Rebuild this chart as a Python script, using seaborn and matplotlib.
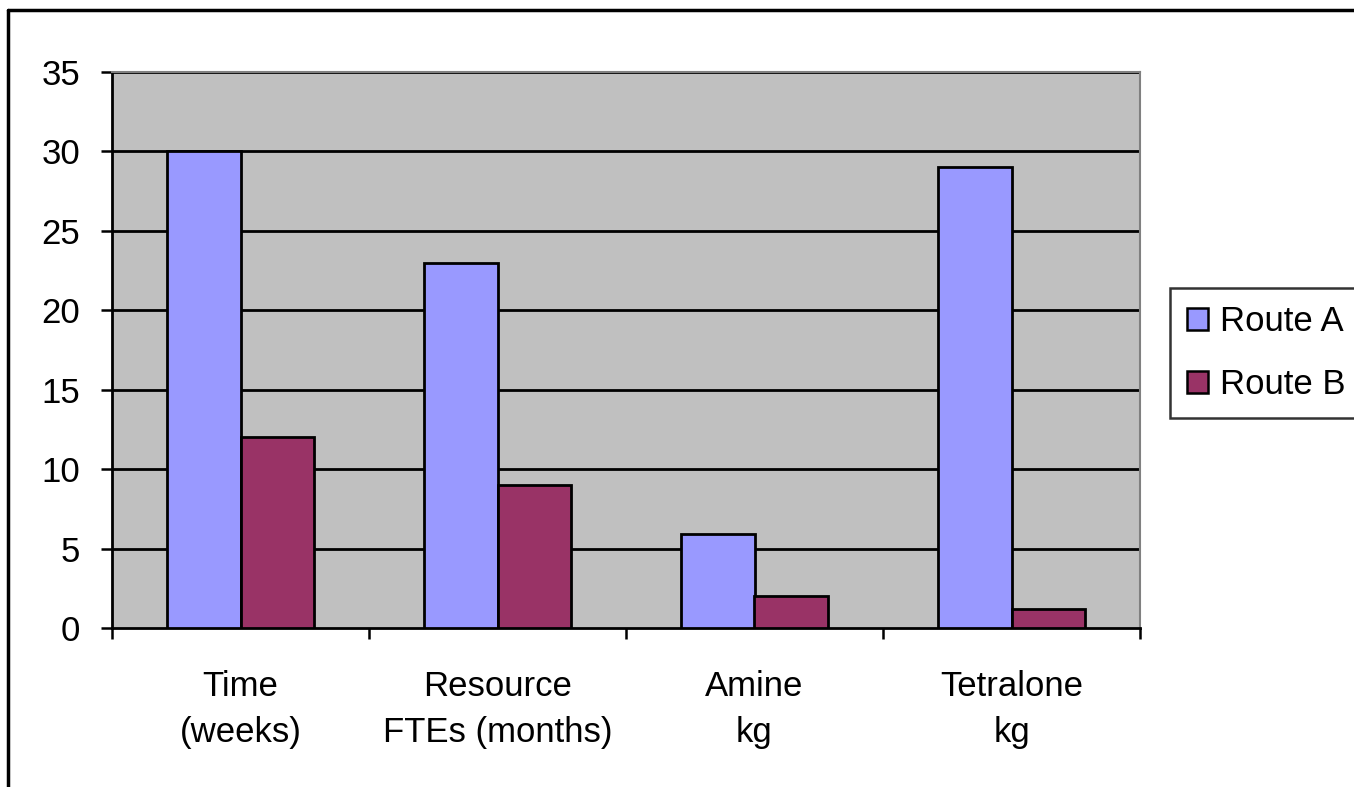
import matplotlib
matplotlib.use("Agg")
import matplotlib.pyplot as plt
from matplotlib.patches import Rectangle
from matplotlib.lines import Line2D
import seaborn as sns
import pandas as pd

categories = ["Time\n(weeks)", "Resource\nFTEs (months)", "Amine\nkg", "Tetralone\nkg"]
route_a = [30, 23, 5.9, 29]
route_b = [12, 9, 2, 1.2]
series = ["Route A", "Route B"]
colors = {"Route A": "#9999FF", "Route B": "#993366"}
y_ticks = [0, 5, 10, 15, 20, 25, 30, 35]

df = pd.DataFrame({
    "category": categories * 2,
    "value": route_a + route_b,
    "route": [series[0]] * len(categories) + [series[1]] * len(categories),
})

sns.set_style("white")
plt.rcParams["font.family"] = ["Liberation Sans", "DejaVu Sans"]
plt.rcParams["text.color"] = "black"
plt.rcParams["xtick.color"] = "black"
plt.rcParams["ytick.color"] = "black"

FS = 25

fig = plt.figure(figsize=(13.54, 7.87), dpi=100)
ax = fig.add_axes([112 / 1354, 1 - 628 / 787, 1028 / 1354, 556 / 787])
ax.set_facecolor("#C0C0C0")

sns.barplot(data=df, x="category", y="value", hue="route", palette=colors,
            width=0.572, edgecolor="black", linewidth=2, saturation=1,
            ax=ax, zorder=3, legend=False)

ax.set_xlim(-0.5, len(categories) - 0.5)
ax.set_ylim(0, 35)
ax.set_yticks(y_ticks)
ax.set_yticklabels([str(t) for t in y_ticks])
ax.set_xlabel("")
ax.set_ylabel("")

# horizontal gridlines
for t in y_ticks[1:]:
    ax.axhline(t, color="black", linewidth=2, zorder=2)

# category boundaries get tick marks, centers get labels
ax.set_xticks([i - 0.5 for i in range(len(categories) + 1)])
ax.set_xticklabels([])
ax.set_xticks(range(len(categories)), minor=True)
ax.set_xticklabels(categories, minor=True, fontsize=FS, linespacing=1.5)
ax.tick_params(axis="x", which="major", bottom=True, direction="out", length=8,
               width=1.8, color="black")
ax.tick_params(axis="x", which="minor", bottom=True, length=0, pad=30, labelcolor="black")
ax.tick_params(axis="y", left=True, direction="out", length=8, width=1.8, color="black",
               labelsize=FS, pad=15, labelcolor="black")

for side in ["left", "bottom"]:
    ax.spines[side].set_color("black")
    ax.spines[side].set_linewidth(2)
for side in ["top", "right"]:
    ax.spines[side].set_color("#808080")
    ax.spines[side].set_linewidth(1.5)

handles = [Rectangle((0, 0), 1, 1, facecolor=colors[s], edgecolor="black", linewidth=1.8)
           for s in series]
leg = fig.legend(handles, series, loc="upper left", bbox_to_anchor=(1170 / 1354, 1 - 288 / 787),
                 frameon=True, fancybox=False, fontsize=FS, handlelength=0.6, handleheight=0.6,
                 handletextpad=0.35, borderpad=0.5, labelspacing=0.85, borderaxespad=0)
leg.get_frame().set_edgecolor("black")
leg.get_frame().set_linewidth(1.8)
for txt in leg.get_texts():
    txt.set_color("black")

# outer chart frame
fig.add_artist(Line2D([8 / 1354, 8 / 1354], [0, 1 - 10 / 787], transform=fig.transFigure,
                      color="black", linewidth=2.5))
fig.add_artist(Line2D([8 / 1354, 1], [1 - 10 / 787, 1 - 10 / 787], transform=fig.transFigure,
                      color="black", linewidth=2.5))

fig.savefig("out.png", dpi=100)
